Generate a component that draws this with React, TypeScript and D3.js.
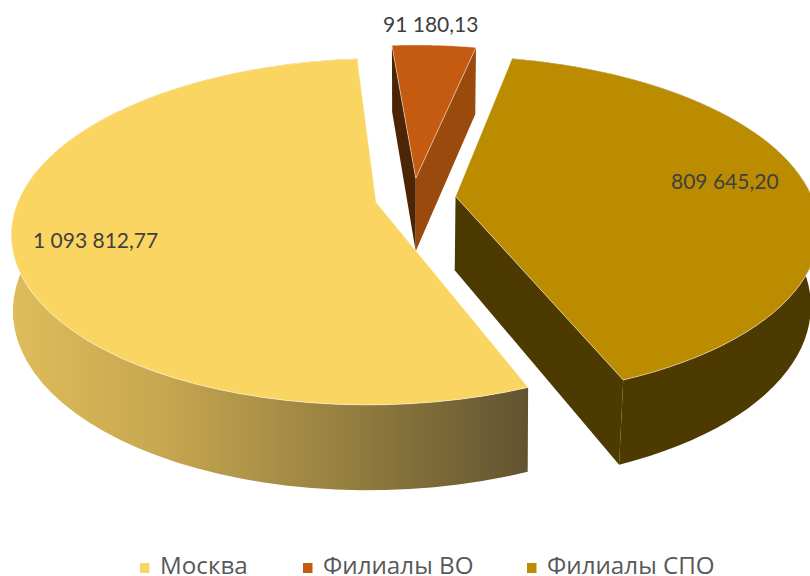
import React from 'react';
import * as d3 from 'd3';

const categories = ['Москва', 'Филиалы ВО', 'Филиалы СПО'];
const values = [1093812.77, 91180.13, 809645.2];
const valueLabels = ['1 093 812,77', '91 180,13', '809 645,20'];
const topColors = ['#FBD561', '#C55A11', '#BC8C00'];

const WIDTH = 810;
const HEIGHT = 576;

// perspective of the pie plane, fitted by eye against the reference
const cx = 415.5;
const cy = 198;
const radius = 366;
const squash = 0.458;
const depth = 74;
const explode = [0.11, 0.12, 0.11];
// per slice corrections, the picture's 3D is not a single clean projection
const persp = [0.17, 0.155, 0.18];
const uScale = [0.975, 0.935, 0.975];
const vScale = [0.995, 0.944, 0.99];
const shiftX = [0, -2.5, 0];
const bottomShrink = [0.004, 0.012, 0.02];

const arcs = d3
  .pie<number>()
  .sort(null)
  .startAngle((158 * Math.PI) / 180)
  .endAngle((518 * Math.PI) / 180)(values);

const xScale = d3.scaleLinear().domain([0, 1]).range([0, radius]);
const yScale = d3.scaleLinear().domain([0, 1]).range([0, radius * squash]);

type Pt = [number, number];

// u to the right, v toward the viewer, z = 0 top face, z = 1 bottom face
const project = (i: number, u: number, v: number, z = 0): Pt => {
  const w = 1 - persp[i] * v;
  return [
    cx + shiftX[i] + (xScale(u) * (1 - bottomShrink[i] * z)) / w,
    cy + (yScale(v) * (1 - 0.02 * z)) / w + (depth * z) / w,
  ];
};

const sliceOrigin = (i: number): [number, number] => {
  const mid = (arcs[i].startAngle + arcs[i].endAngle) / 2;
  return [explode[i] * Math.sin(mid), -explode[i] * Math.cos(mid)];
};

const rimPoints = (i: number, z: number): Pt[] => {
  const [ou, ov] = sliceOrigin(i);
  const { startAngle, endAngle } = arcs[i];
  return d3.range(0, 61).map(k => {
    const t = startAngle + ((endAngle - startAngle) * k) / 60;
    return project(i, ou + uScale[i] * Math.sin(t), ov - vScale[i] * Math.cos(t), z);
  });
};

const apex = (i: number, z: number): Pt => {
  const [ou, ov] = sliceOrigin(i);
  return project(i, ou, ov, z);
};

const line = d3.line<Pt>();
const closed = (pts: Pt[]) => `${line(pts)}Z`;

const rimStrip = (i: number) => closed([...rimPoints(i, 0), ...rimPoints(i, 1).reverse()]);
const topFace = (i: number) => closed([apex(i, 0), ...rimPoints(i, 0)]);

// flat wall from the apex to the first (end = false) or last (end = true) rim point
const wall = (i: number, end: boolean) => {
  const t = rimPoints(i, 0);
  const b = rimPoints(i, 1);
  const k = end ? t.length - 1 : 0;
  return closed([apex(i, 0), t[k], b[k], apex(i, 1)]);
};

const legendX = [140, 303, 527];

export default function App() {
  return (
    <svg
      width={WIDTH}
      height={HEIGHT}
      viewBox={`0 0 ${WIDTH} ${HEIGHT}`}
      style={{ position: 'absolute', left: 0, top: 0, background: '#fff' }}
    >
      <defs>
        <linearGradient id="rimGrad" gradientUnits="userSpaceOnUse" x1={10} x2={528} y1={0} y2={0}>
          <stop offset="0" stopColor="#DFBD5B" />
          <stop offset="0.3" stopColor="#C6A650" />
          <stop offset="0.65" stopColor="#947F40" />
          <stop offset="1" stopColor="#625330" />
        </linearGradient>
      </defs>

      {/* side walls, back to front */}
      <path d={rimStrip(2)} fill="#4D3A00" />
      <path d={wall(2, true)} fill="#4D3A00" />
      <path d={wall(1, false)} fill="#4C2506" />
      <path d={wall(1, true)} fill="#9A4A0C" />
      <path d={rimStrip(0)} fill="url(#rimGrad)" />

      {/* top faces */}
      {arcs.map((_, i) => (
        <path
          key={categories[i]}
          d={topFace(i)}
          fill={topColors[i]}
          stroke="#fff"
          strokeOpacity={0.6}
          strokeWidth={0.8}
        />
      ))}

      <g fontFamily="Lato, 'Open Sans', sans-serif" fontSize={21} fill="#404040">
        <text x={33} y={248}>{valueLabels[0]}</text>
        <text x={383} y={32}>{valueLabels[1]}</text>
        <text x={671} y={189}>{valueLabels[2]}</text>
      </g>

      <g fontFamily="'Open Sans', sans-serif" fontSize={24.2} fill="#595959">
        {categories.map((c, i) => (
          <g key={c} transform={`translate(${legendX[i]},0)`}>
            <rect x={0} y={563} width={9.5} height={10} fill={topColors[i]} />
            <text x={20} y={574}>{c}</text>
          </g>
        ))}
      </g>
    </svg>
  );
}
